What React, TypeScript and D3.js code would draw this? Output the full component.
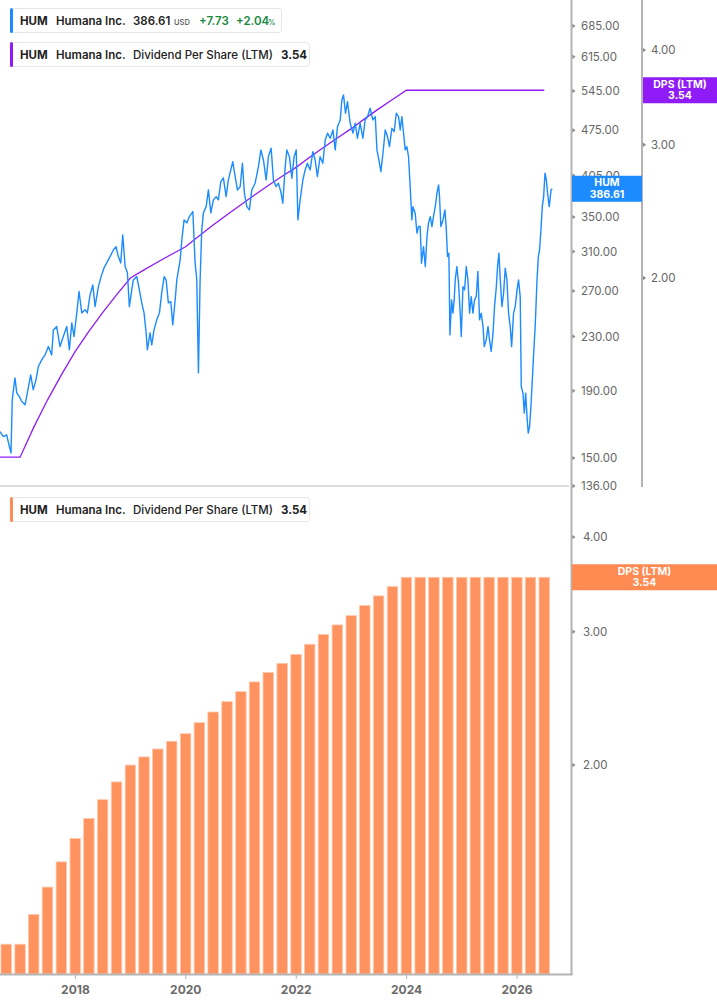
import React, { useEffect, useRef } from "react";
import * as d3 from "d3";

// HUM close prices
const priceDates = [
  "2016-08-20", "2016-09-11", "2016-10-03", "2016-10-21", "2016-11-01", "2016-11-09", "2016-11-27", "2016-12-09", "2016-12-26",
  "2017-01-11", "2017-02-02", "2017-02-17", "2017-03-11", "2017-03-28", "2017-04-15", "2017-05-01", "2017-05-23", "2017-06-14",
  "2017-07-06", "2017-07-28", "2017-08-08", "2017-08-30", "2017-09-21", "2017-10-13", "2017-11-05", "2017-11-22", "2017-12-08",
  "2017-12-23", "2018-01-10", "2018-01-25", "2018-02-12", "2018-03-06", "2018-03-21", "2018-04-08", "2018-04-26", "2018-05-11",
  "2018-06-02", "2018-06-20", "2018-07-09", "2018-07-27", "2018-08-18", "2018-09-09", "2018-09-27", "2018-10-12", "2018-10-28",
  "2018-11-10", "2018-11-26", "2018-12-11", "2018-12-24", "2019-01-09", "2019-01-19", "2019-02-11", "2019-02-28", "2019-03-16",
  "2019-03-31", "2019-04-14", "2019-04-22", "2019-05-10", "2019-05-21", "2019-06-05", "2019-06-23", "2019-07-11", "2019-07-26",
  "2019-08-11", "2019-08-24", "2019-09-08", "2019-09-24", "2019-10-07", "2019-10-23", "2019-11-03", "2019-11-25", "2019-12-06",
  "2019-12-21", "2020-01-08", "2020-01-25", "2020-02-17", "2020-03-03", "2020-03-14", "2020-03-25", "2020-04-05", "2020-04-16",
  "2020-04-27", "2020-05-15", "2020-05-30", "2020-06-15", "2020-07-02", "2020-07-20", "2020-08-04", "2020-08-20", "2020-09-06",
  "2020-09-24", "2020-10-09", "2020-10-25", "2020-11-07", "2020-11-23", "2020-12-08", "2020-12-26", "2021-01-10", "2021-01-23",
  "2021-02-08", "2021-02-25", "2021-03-13", "2021-04-04", "2021-04-26", "2021-05-12", "2021-05-29", "2021-06-16", "2021-07-01",
  "2021-07-19", "2021-08-03", "2021-08-21", "2021-09-05", "2021-09-21", "2021-10-04", "2021-10-20", "2021-10-31", "2021-11-17",
  "2021-12-03", "2021-12-18", "2022-01-01", "2022-01-12", "2022-01-27", "2022-02-14", "2022-03-01", "2022-03-16", "2022-04-03",
  "2022-04-21", "2022-05-06", "2022-05-21", "2022-06-08", "2022-06-26", "2022-07-12", "2022-07-27", "2022-08-14", "2022-09-01",
  "2022-09-16", "2022-10-01", "2022-10-19", "2022-10-30", "2022-11-10", "2022-11-23", "2022-12-06", "2022-12-24", "2023-01-11",
  "2023-01-26", "2023-02-10", "2023-02-28", "2023-03-18", "2023-04-02", "2023-04-18", "2023-05-05", "2023-05-23", "2023-06-08",
  "2023-06-19", "2023-07-02", "2023-07-15", "2023-07-29", "2023-08-13", "2023-08-28", "2023-09-10", "2023-09-26", "2023-10-11",
  "2023-10-25", "2023-11-09", "2023-11-20", "2023-12-01", "2023-12-12", "2023-12-23", "2024-01-03", "2024-01-14", "2024-01-25",
  "2024-02-05", "2024-02-12", "2024-02-27", "2024-03-10", "2024-03-20", "2024-03-31", "2024-04-09", "2024-04-22", "2024-05-04",
  "2024-05-15", "2024-05-25", "2024-06-06", "2024-06-17", "2024-06-27", "2024-07-09", "2024-07-20", "2024-07-31", "2024-08-06",
  "2024-08-15", "2024-08-29", "2024-09-11", "2024-09-20", "2024-09-28", "2024-10-07", "2024-10-14", "2024-10-25", "2024-11-03",
  "2024-11-11", "2024-11-18", "2024-11-29", "2024-12-10", "2024-12-21", "2024-12-28", "2025-01-08", "2025-01-19", "2025-01-30",
  "2025-02-10", "2025-02-21", "2025-03-04", "2025-03-15", "2025-03-26", "2025-04-06", "2025-04-17", "2025-04-28", "2025-05-09",
  "2025-05-21", "2025-05-29", "2025-06-11", "2025-06-23", "2025-07-03", "2025-07-14", "2025-07-26", "2025-08-05", "2025-08-17",
  "2025-08-25", "2025-09-03", "2025-09-12", "2025-09-23", "2025-10-04", "2025-10-15", "2025-10-26", "2025-11-06", "2025-11-17",
  "2025-11-26", "2025-12-09", "2025-12-20", "2026-01-01", "2026-01-11", "2026-01-22", "2026-01-29", "2026-02-09", "2026-02-18",
  "2026-02-27", "2026-03-08", "2026-03-16", "2026-03-25", "2026-04-03", "2026-04-12", "2026-04-21", "2026-05-02", "2026-05-13",
  "2026-05-22", "2026-05-30", "2026-06-08", "2026-06-17", "2026-06-26", "2026-07-05", "2026-07-14", "2026-07-22", "2026-08-02",
  "2026-08-14", "2026-08-22",
];
const prices = [
  164.7, 161.8, 162.8, 156.2, 152.8, 184.1, 198.9, 188.7, 186.2,
  183.0, 180.9, 188.7, 201.0, 190.7, 197.5, 207.0, 211.9, 215.6,
  222.0, 215.6, 235.4, 238.2, 222.0, 230.0, 238.2, 219.5, 241.3,
  230.0, 249.9, 269.4, 249.9, 252.6, 249.9, 266.2, 275.8, 255.5,
  274.1, 283.9, 292.7, 297.9, 304.6, 311.8, 315.5, 304.6, 297.9,
  328.7, 294.1, 287.7, 255.5, 271.0, 280.6, 283.9, 271.0, 258.9,
  249.9, 233.0, 219.5, 233.0, 223.4, 235.4, 243.9, 249.9, 268.1,
  283.9, 280.6, 258.9, 260.1, 239.6, 261.6, 280.6, 301.1, 323.0,
  346.5, 342.9, 350.6, 356.8, 297.9, 280.6, 202.4, 280.6, 334.6,
  355.2, 363.1, 385.0, 355.2, 371.8, 376.1, 371.8, 396.4, 401.6,
  376.1, 398.8, 413.1, 425.3, 403.5, 385.0, 389.5, 422.9, 381.0,
  363.1, 358.9, 385.0, 394.2, 417.9, 443.2, 427.8, 398.8, 432.8,
  445.8, 398.8, 389.5, 394.2, 382.8, 367.5, 417.9, 443.2, 432.8,
  401.2, 432.8, 443.2, 346.5, 371.8, 398.8, 413.1, 422.9, 413.1,
  440.5, 427.8, 403.5, 432.8, 422.9, 459.0, 470.0, 461.8, 475.4,
  443.2, 480.9, 492.4, 528.3, 537.6, 504.1, 525.1, 486.7, 470.0,
  486.7, 461.8, 486.7, 461.8, 492.4, 498.2, 513.1, 492.4, 498.2,
  443.2, 427.8, 410.6, 438.0, 475.4, 464.4, 448.3, 478.2, 472.6,
  504.1, 498.2, 475.4, 498.2, 470.0, 443.2, 448.3, 432.8, 389.5,
  346.5, 363.1, 354.8, 330.7, 338.5, 338.5, 297.6, 315.5, 294.1,
  326.8, 342.5, 350.6, 338.5, 350.6, 363.1, 380.6, 391.9, 376.1,
  338.5, 346.5, 358.9, 334.6, 304.6, 308.3, 231.3, 261.6, 249.7,
  261.6, 280.6, 294.1, 277.4, 249.7, 230.0, 274.1, 271.0, 294.1,
  280.6, 249.7, 264.6, 249.7, 261.6, 264.6, 289.0, 243.9, 249.7,
  238.2, 222.0, 227.3, 238.2, 227.3, 218.2, 232.7, 255.5, 274.1,
  294.1, 308.3, 280.6, 255.5, 267.9, 292.4, 280.6, 249.7, 238.2,
  222.0, 249.7, 255.5, 271.0, 280.6, 264.6, 192.9, 188.5, 175.7,
  188.5, 173.6, 163.8, 167.6, 179.8, 197.5, 216.9, 241.0, 280.6,
  304.6, 311.8, 334.6, 363.1, 376.1, 408.3, 398.8, 380.6, 363.1,
  385.0, 386.61,
];

// Dividend per share, last twelve months, quarter ends
const dpsDates = [
  "2016-06-30", "2016-09-30", "2016-12-31",
  "2017-03-31", "2017-06-30", "2017-09-30", "2017-12-31",
  "2018-03-31", "2018-06-30", "2018-09-30", "2018-12-31",
  "2019-03-31", "2019-06-30", "2019-09-30", "2019-12-31",
  "2020-03-31", "2020-06-30", "2020-09-30", "2020-12-31",
  "2021-03-31", "2021-06-30", "2021-09-30", "2021-12-31",
  "2022-03-31", "2022-06-30", "2022-09-30", "2022-12-31",
  "2023-03-31", "2023-06-30", "2023-09-30", "2023-12-31",
  "2024-03-31", "2024-06-30", "2024-09-30", "2024-12-31",
  "2025-03-31", "2025-06-30", "2025-09-30", "2025-12-31",
  "2026-03-31", "2026-06-30",
];
const dpsValues = [
  1.16, 1.16, 1.16,
  1.27, 1.38, 1.49, 1.6,
  1.7, 1.8, 1.9, 2.0,
  2.05, 2.1, 2.15, 2.2,
  2.275, 2.35, 2.425, 2.5,
  2.575, 2.65, 2.725, 2.8,
  2.8875, 2.975, 3.0625, 3.15,
  3.2475, 3.345, 3.4425, 3.54,
  3.54, 3.54, 3.54, 3.54,
  3.54, 3.54, 3.54, 3.54,
  3.54, 3.54,
];

const priceTicks = [685, 615, 545, 475, 405, 350, 310, 270, 230, 190, 150, 136];
const dpsTicks = [4, 3, 2];
const yearTicks = [2018, 2020, 2022, 2024, 2026];

const lastPrice = 386.61;
const priceChange = 7.73;
const pctChange = 2.04;
const lastDps = 3.54;

const BLUE = "#1b8bff";
const PURPLE = "#8f1cf6";
const ORANGE = "#ff8a52";
const FONT = "Inter, 'Noto Sans', sans-serif";

export default function App() {
  const ref = useRef<SVGSVGElement>(null);

  useEffect(() => {
    const root = d3.select(ref.current);
    root.selectAll("*").remove();

    const width = 717;
    const plotW = 571;
    const topH = 486;
    const botTop = 487;
    const botBottom = 974;
    const parse = d3.timeParse("%Y-%m-%d");

    const svg = root.attr("width", width).attr("height", 1005).style("font-family", FONT);

    const x = d3
      .scaleTime()
      .domain([new Date(2016, 7, 20), new Date(2026, 11, 24)])
      .range([0, plotW]);
    const yPrice = d3.scaleLog().domain([136, 750.6]).range([topH, 0]);
    const yDpsTop = d3.scaleLog().domain([1.0627, 4.658]).range([topH, 0]);
    const yDpsBot = d3.scaleLog().domain([1.0595, 4.658]).range([botBottom, botTop]);

    const priceData = priceDates.map((d, i) => ({ date: parse(d)!, v: prices[i] }));
    const dpsData = dpsDates.map((d, i) => ({ date: parse(d)!, v: dpsValues[i] }));

    const defs = svg.append("defs");
    defs.append("clipPath").attr("id", "clipTop").append("rect")
      .attr("x", 0).attr("y", 0).attr("width", plotW).attr("height", topH);
    defs.append("clipPath").attr("id", "clipBot").append("rect")
      .attr("x", 0).attr("y", botTop).attr("width", plotW).attr("height", botBottom - botTop);

    // ---- top panel lines
    const line = d3
      .line<{ date: Date; v: number }>()
      .x((d) => x(d.date));

    svg.append("path")
      .datum(dpsData)
      .attr("clip-path", "url(#clipTop)")
      .attr("fill", "none")
      .attr("stroke", PURPLE)
      .attr("stroke-width", 1.3)
      .attr("d", line.y((d) => yDpsTop(d.v)));

    svg.append("path")
      .datum(priceData)
      .attr("clip-path", "url(#clipTop)")
      .attr("fill", "none")
      .attr("stroke", BLUE)
      .attr("stroke-width", 1.4)
      .attr("stroke-linejoin", "round")
      .attr("d", line.y((d) => yPrice(d.v)));

    // separator between panels
    svg.append("line")
      .attr("x1", 0).attr("x2", plotW - 2)
      .attr("y1", topH).attr("y2", topH)
      .attr("stroke", "#dcdcdc").attr("stroke-width", 2);

    // ---- bottom panel bars
    const barW = 10.5;
    svg.append("g")
      .attr("clip-path", "url(#clipBot)")
      .selectAll("rect")
      .data(dpsData)
      .enter()
      .append("rect")
      .attr("x", (d) => x(d.date) - barW / 2)
      .attr("y", (d) => yDpsBot(d.v))
      .attr("width", barW)
      .attr("height", (d) => botBottom - yDpsBot(d.v))
      .attr("fill", ORANGE)
      .attr("fill-opacity", 0.92)
      .attr("stroke", "#ffc9ad")
      .attr("stroke-width", 0.8);

    // ---- axes lines
    svg.append("line")
      .attr("x1", plotW + 0.5).attr("x2", plotW + 0.5)
      .attr("y1", 0).attr("y2", botBottom + 1)
      .attr("stroke", "#b4b4b4").attr("stroke-width", 2);
    svg.append("line")
      .attr("x1", 642).attr("x2", 642)
      .attr("y1", 0).attr("y2", topH + 1)
      .attr("stroke", "#b4b4b4").attr("stroke-width", 2);
    svg.append("line")
      .attr("x1", 0).attr("x2", plotW + 1.5)
      .attr("y1", botBottom + 0.5).attr("y2", botBottom + 0.5)
      .attr("stroke", "#b4b4b4").attr("stroke-width", 2);

    const tri = (ax: number, y: number) => `M${ax},${y - 2.2}L${ax + 3},${y}L${ax},${y + 2.2}Z`;
    const fmt = d3.format(".2f");

    // price axis
    const pAxis = svg.append("g");
    priceTicks.forEach((t) => {
      const y = yPrice(t);
      pAxis.append("path").attr("d", tri(plotW + 1.5, y)).attr("fill", "#888");
      pAxis.append("text")
        .attr("x", 581).attr("y", y).attr("dy", "0.35em")
        .attr("font-size", 11.5).attr("fill", "#666")
        .text(fmt(t));
    });

    // dps axis (top)
    dpsTicks.forEach((t) => {
      const y = yDpsTop(t);
      svg.append("path").attr("d", tri(643, y)).attr("fill", "#888");
      svg.append("text")
        .attr("x", 651).attr("y", y).attr("dy", "0.35em")
        .attr("font-size", 11.5).attr("fill", "#666")
        .text(fmt(t));
    });

    // dps axis (bottom)
    dpsTicks.forEach((t) => {
      const y = yDpsBot(t);
      svg.append("path").attr("d", tri(plotW + 1.5, y)).attr("fill", "#888");
      svg.append("text")
        .attr("x", 583).attr("y", y).attr("dy", "0.35em")
        .attr("font-size", 11.5).attr("fill", "#666")
        .text(fmt(t));
    });

    // x axis years
    yearTicks.forEach((yr) => {
      const xx = x(new Date(yr, 0, 1));
      svg.append("line")
        .attr("x1", xx).attr("x2", xx)
        .attr("y1", botBottom).attr("y2", botBottom + 5)
        .attr("stroke", "#b4b4b4").attr("stroke-width", 1);
      svg.append("text")
        .attr("x", xx).attr("y", 994)
        .attr("text-anchor", "middle")
        .attr("font-size", 12).attr("font-weight", 700).attr("fill", "#6b6b6b")
        .text(yr);
    });

    // ---- value badges
    const badge = (x0: number, w: number, cy: number, color: string, l1: string, l2: string) => {
      const g = svg.append("g");
      g.append("rect").attr("x", x0).attr("y", cy - 13).attr("width", w).attr("height", 26).attr("fill", color);
      g.append("text").attr("x", x0 + w / 2).attr("y", cy - 2.5).attr("text-anchor", "middle")
        .attr("font-size", 10.5).attr("font-weight", 700).attr("fill", "#fff").text(l1);
      g.append("text").attr("x", x0 + w / 2).attr("y", cy + 9).attr("text-anchor", "middle")
        .attr("font-size", 10.5).attr("font-weight", 700).attr("fill", "#fff").text(l2);
    };
    badge(plotW + 1, 70, yPrice(lastPrice), BLUE, "HUM", fmt(lastPrice));
    badge(643, 74, yDpsTop(lastDps), PURPLE, "DPS (LTM)", fmt(lastDps));
    badge(plotW + 1, width - plotW - 1, yDpsBot(lastDps), ORANGE, "DPS (LTM)", fmt(lastDps));

    // ---- legends
    const legendBox = (y0: number, w: number, color: string) => {
      const g = svg.append("g");
      g.append("rect").attr("x", 10.5).attr("y", y0 + 0.5).attr("width", w).attr("height", 24)
        .attr("rx", 3).attr("fill", "#fff").attr("stroke", "#e6e6e6");
      g.append("rect").attr("x", 10).attr("y", y0).attr("width", 3).attr("height", 25)
        .attr("rx", 1.5).attr("fill", color);
      return g;
    };
    const txt = (g: any, xx: number, yy: number, s: string, opts: { size?: number; weight?: number; fill?: string } = {}) =>
      g.append("text").attr("x", xx).attr("y", yy)
        .attr("font-size", opts.size ?? 11.5).attr("font-weight", opts.weight ?? 600)
        .attr("fill", opts.fill ?? "#222").text(s);

    const l1 = legendBox(8, 271, BLUE);
    txt(l1, 20, 25, "HUM", { weight: 700 });
    txt(l1, 56, 25, "Humana Inc.", { weight: 600 });
    txt(l1, 133, 25, fmt(lastPrice), { weight: 600 });
    txt(l1, 174, 25, "USD", { size: 7.5, weight: 500, fill: "#555" });
    txt(l1, 199, 25, "+" + fmt(priceChange), { weight: 600, fill: "#178a3d" });
    txt(l1, 236, 25, "+" + fmt(pctChange), { weight: 600, fill: "#178a3d" });
    txt(l1, 268, 25, "%", { size: 7.5, weight: 500, fill: "#178a3d" });

    const dpsLegend = (y0: number, color: string) => {
      const g = legendBox(y0, 299, color);
      txt(g, 20, y0 + 17, "HUM", { weight: 700 });
      txt(g, 56, y0 + 17, "Humana Inc.", { weight: 600 });
      txt(g, 133, y0 + 17, "Dividend Per Share (LTM)", { weight: 500 });
      txt(g, 281, y0 + 17, fmt(lastDps), { weight: 700 });
    };
    dpsLegend(42, PURPLE);
    dpsLegend(497, ORANGE);
  }, []);

  return (
    <div style={{ position: "absolute", left: 0, top: 0 }}>
      <svg ref={ref} style={{ display: "block" }}></svg>
    </div>
  );
}
